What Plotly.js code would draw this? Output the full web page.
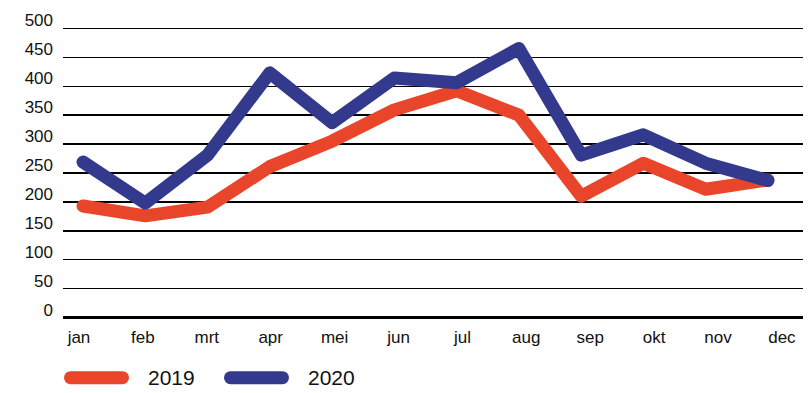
<!DOCTYPE html>
<html>
<head>
<meta charset="utf-8">
<script src="https://cdn.plot.ly/plotly-3.0.1.min.js"></script>
<style>
  html, body { margin: 0; padding: 0; background: #fff; }
  #chart { width: 812px; height: 393px; }
  .scatterlayer .js-line { stroke-linejoin: round !important; stroke-linecap: round !important; }
  .shapelayer path { stroke-linecap: round !important; }
</style>
</head>
<body>
<div id="chart"></div>
<script>
// ---- data ----
const months = ['jan', 'feb', 'mrt', 'apr', 'mei', 'jun', 'jul', 'aug', 'sep', 'okt', 'nov', 'dec'];
const values2019 = [193, 176, 191, 261, 305, 359, 392, 350, 210, 267, 222, 238];
const values2020 = [269, 198, 281, 423, 337, 414, 406, 465, 281, 316, 267, 237];
const seriesNames = ['2019', '2020'];
const yTicks = [0, 50, 100, 150, 200, 250, 300, 350, 400, 450, 500];

// ---- styling ----
const orange = '#E8452A';
const blue = '#333A8E';
const font = 'Liberation Sans, Arial, sans-serif';
const W = 812, H = 393;
const M = { l: 63, r: 9, t: 26, b: 73 };
const plotW = W - M.l - M.r, plotH = H - M.t - M.b;
const px2paperX = px => (px - M.l) / plotW;
const px2paperY = py => (H - M.b - py) / plotH;

const idx = months.map((m, i) => i);

const traces = [
  // helper (invisible) trace so the month-label axis gets drawn
  { x: idx, y: idx.map(() => null), type: 'scatter', mode: 'lines',
    xaxis: 'x', yaxis: 'y', hoverinfo: 'skip', showlegend: false },
  { x: idx, y: values2019, name: seriesNames[0], type: 'scatter', mode: 'lines',
    xaxis: 'x2', yaxis: 'y', line: { color: orange, width: 13 }, hoverinfo: 'skip' },
  { x: idx, y: values2020, name: seriesNames[1], type: 'scatter', mode: 'lines',
    xaxis: 'x2', yaxis: 'y', line: { color: blue, width: 13 }, hoverinfo: 'skip' }
];

// legend built from shapes + annotations
const legendItems = [
  { name: seriesNames[0], color: orange, lineX: [70.5, 122.5], textX: 146 },
  { name: seriesNames[1], color: blue, lineX: [230.5, 282.5], textX: 306 }
];
const legendY = 377.7;
const shapes = legendItems.map(it => ({
  type: 'line', xref: 'paper', yref: 'paper',
  x0: px2paperX(it.lineX[0]), x1: px2paperX(it.lineX[1]),
  y0: px2paperY(legendY), y1: px2paperY(legendY),
  line: { color: it.color, width: 13 }
}));
const annotations = legendItems.map(it => ({
  xref: 'paper', yref: 'paper', x: px2paperX(it.textX), y: px2paperY(legendY),
  xanchor: 'left', yanchor: 'middle', showarrow: false, text: it.name,
  font: { family: font, size: 21, color: '#111' }
}));

const layout = {
  width: W, height: H,
  margin: M,
  paper_bgcolor: '#fff', plot_bgcolor: '#fff',
  showlegend: false,
  font: { family: font, size: 17, color: '#111' },
  xaxis: {
    type: 'linear', range: [-0.25, 11.33],
    tickmode: 'array', tickvals: idx, ticktext: months,
    showgrid: false, zeroline: false, showline: false, ticks: '',
    ticklabelstandoff: 5,
    tickfont: { family: font, size: 17, color: '#111' }
  },
  xaxis2: {
    type: 'linear', range: [-0.321, 11.563], overlaying: 'x', anchor: 'y',
    showgrid: false, zeroline: false, showline: false, showticklabels: false, ticks: ''
  },
  yaxis: {
    range: [-3.97, 503.97], tickmode: 'array', tickvals: yTicks,
    showgrid: true, gridcolor: '#000', gridwidth: 1.3,
    zeroline: true, zerolinecolor: '#000', zerolinewidth: 2.5,
    showline: false, ticks: '',
    ticklabelstandoff: 9, ticklabelshift: -8,
    tickfont: { family: font, size: 17, color: '#111' }
  },
  shapes: shapes,
  annotations: annotations
};

Plotly.newPlot('chart', traces, layout, { staticPlot: true, displayModeBar: false });
</script>
</body>
</html>
